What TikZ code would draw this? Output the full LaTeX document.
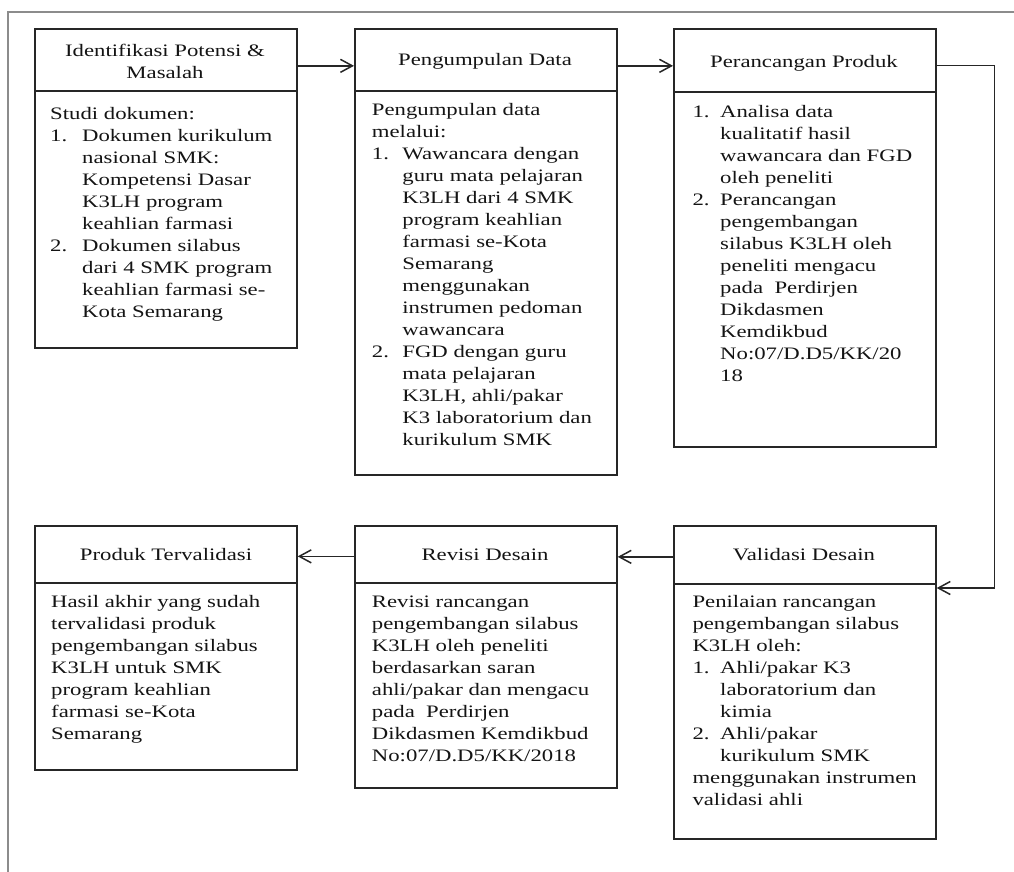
\documentclass[tikz,border=0pt]{standalone}
\usepackage{fontspec}
\setmainfont{Liberation Serif}[FakeStretch=1.3]
\usetikzlibrary{arrows.meta}
\newcommand\hnum[2]{\makebox[#1][l]{#2}}
\newcommand\hind[1]{\hspace*{#1}}
\tikzset{
  boxpart/.style={draw=black!85, line width=1.7pt, rectangle, minimum width=262pt, inner sep=0pt, anchor=north west},
  bodytext/.style={anchor=north west, inner sep=0pt, align=left, text=black!92, font=\fontsize{17.5}{22}\selectfont},
  headtext/.style={anchor=base, inner sep=0pt, align=center, text=black!92, font=\fontsize{17.5}{22}\selectfont},
  headtextml/.style={anchor=north, inner sep=0pt, align=center, text=black!92, font=\fontsize{17.5}{22}\selectfont},
  arr/.style={draw=black!85, line width=1.5pt, -{Straight Barb[length=12pt,width=13pt]}},
  framel/.style={draw=black!45, line width=1.2pt}
}
\begin{document}
\begin{tikzpicture}[x=1pt,y=-1pt]
\useasboundingbox (0,0) rectangle (1014,872);
\fill[white] (0,0) rectangle (1014,872);
\draw[framel] (1014,12) -- (8,12) -- (8,872);

% Box 1
\node[boxpart, minimum height=62pt] (h1) at (34,28) {};
\node[boxpart, minimum height=257pt] (b1) at (34,90) {};
\node[headtextml] (t1) at (165,40.6) {\strut Identifikasi Potensi \&\\Masalah};
\node[bodytext] (x1) at (50,103.6) {\strut Studi dokumen:\\
\hnum{32pt}{1.}Dokumen kurikulum\\
\hind{32pt}nasional SMK:\\
\hind{32pt}Kompetensi Dasar\\
\hind{32pt}K3LH program\\
\hind{32pt}keahlian farmasi\\
\hnum{32pt}{2.}Dokumen silabus\\
\hind{32pt}dari 4 SMK program\\
\hind{32pt}keahlian farmasi se-\\
\hind{32pt}Kota Semarang};

% Box 2
\node[boxpart, minimum height=62pt] (h2) at (354,28) {};
\node[boxpart, minimum height=384pt] (b2) at (354,90) {};
\node[headtext] (t2) at (485,66) {Pengumpulan Data};
\node[bodytext] (x2) at (371.7,100.3) {\strut Pengumpulan data\\
melalui:\\
\hnum{30.5pt}{1.}Wawancara dengan\\
\hind{30.5pt}guru mata pelajaran\\
\hind{30.5pt}K3LH dari 4 SMK\\
\hind{30.5pt}program keahlian\\
\hind{30.5pt}farmasi se-Kota\\
\hind{30.5pt}Semarang\\
\hind{30.5pt}menggunakan\\
\hind{30.5pt}instrumen pedoman\\
\hind{30.5pt}wawancara\\
\hnum{30.5pt}{2.}FGD dengan guru\\
\hind{30.5pt}mata pelajaran\\
\hind{30.5pt}K3LH, ahli/pakar\\
\hind{30.5pt}K3 laboratorium dan\\
\hind{30.5pt}kurikulum SMK};

% Box 3
\node[boxpart, minimum height=63pt] (h3) at (673,28) {};
\node[boxpart, minimum height=355pt] (b3) at (673,91) {};
\node[headtext] (t3) at (804,67.7) {Perancangan Produk};
\node[bodytext] (x3) at (692.3,101.9) {\strut\hnum{27.7pt}{1.}Analisa data\\
\hind{27.7pt}kualitatif hasil\\
\hind{27.7pt}wawancara dan FGD\\
\hind{27.7pt}oleh peneliti\\
\hnum{27.7pt}{2.}Perancangan\\
\hind{27.7pt}pengembangan\\
\hind{27.7pt}silabus K3LH oleh\\
\hind{27.7pt}peneliti mengacu\\
\hind{27.7pt}pada\ \ Perdirjen\\
\hind{27.7pt}Dikdasmen\\
\hind{27.7pt}Kemdikbud\\
\hind{27.7pt}No:07/D.D5/KK/20\\
\hind{27.7pt}18};

% Box 4
\node[boxpart, minimum height=57pt] (h4) at (34,525) {};
\node[boxpart, minimum height=187pt] (b4) at (34,582) {};
\node[headtext] (t4) at (166,560.7) {Produk Tervalidasi};
\node[bodytext] (x4) at (51,592.3) {\strut Hasil akhir yang sudah\\
tervalidasi produk\\
pengembangan silabus\\
K3LH untuk SMK\\
program keahlian\\
farmasi se-Kota\\
Semarang};

% Box 5
\node[boxpart, minimum height=57pt] (h5) at (354,525) {};
\node[boxpart, minimum height=205pt] (b5) at (354,582) {};
\node[headtext] (t5) at (485,560.7) {Revisi Desain};
\node[bodytext] (x5) at (371.7,592.3) {\strut Revisi rancangan\\
pengembangan silabus\\
K3LH oleh peneliti\\
berdasarkan saran\\
ahli/pakar dan mengacu\\
pada\ \ Perdirjen\\
Dikdasmen Kemdikbud\\
No:07/D.D5/KK/2018};

% Box 6
\node[boxpart, minimum height=58pt] (h6) at (673,525) {};
\node[boxpart, minimum height=255pt] (b6) at (673,583) {};
\node[headtext] (t6) at (804,560.7) {Validasi Desain};
\node[bodytext] (x6) at (692.3,592.3) {\strut Penilaian rancangan\\
pengembangan silabus\\
K3LH oleh:\\
\hnum{27.7pt}{1.}Ahli/pakar K3\\
\hind{27.7pt}laboratorium dan\\
\hind{27.7pt}kimia\\
\hnum{27.7pt}{2.}Ahli/pakar\\
\hind{27.7pt}kurikulum SMK\\
menggunakan instrumen\\
validasi ahli};

% Connectors
\coordinate (a1) at ([yshift=-6pt]h1.east);
\draw[arr] (a1) -- (a1 -| h2.west);
\coordinate (a2) at ([yshift=-6pt]h2.east);
\draw[arr] (a2) -- (a2 -| h3.west);
\coordinate (a3) at ([yshift=-5pt]h3.east);
\coordinate (c3) at ([xshift=58pt]a3);
\draw[arr] (a3) -- (c3) |- ([yshift=-5pt]b6.north east);
\coordinate (a6) at ([yshift=-2pt]h6.west);
\draw[arr] (a6) -- (a6 -| h5.east);
\coordinate (a5) at ([yshift=-2pt]h5.west);
\draw[arr] (a5) -- (a5 -| h4.east);
\end{tikzpicture}
\end{document}
